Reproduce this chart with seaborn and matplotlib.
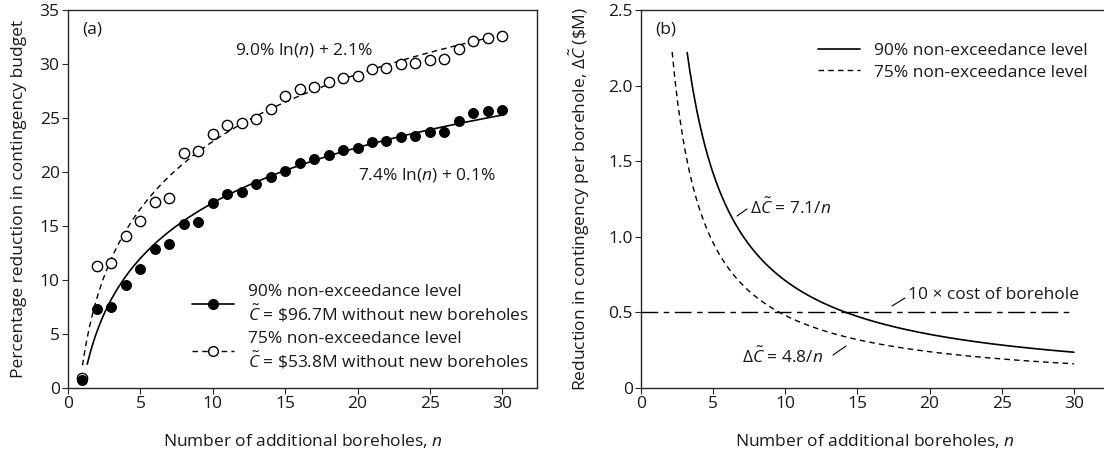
import numpy as np
import pandas as pd
import matplotlib
matplotlib.use("Agg")
import matplotlib.pyplot as plt
from matplotlib.lines import Line2D
import seaborn as sns

# ---------------- data ----------------
n_pts = list(range(1, 31))
red_90 = [0.75, 7.3, 7.5, 9.5, 11.0, 12.9, 13.3, 15.2, 15.4, 17.1,
          17.95, 18.15, 18.85, 19.55, 20.1, 20.85, 21.2, 21.6, 22.0, 22.25,
          22.8, 22.85, 23.25, 23.35, 23.7, 23.75, 24.7, 25.45, 25.65, 25.75]
red_75 = [0.9, 11.3, 11.55, 14.1, 15.45, 17.25, 17.55, 21.8, 21.9, 23.5,
          24.35, 24.5, 24.95, 25.8, 27.05, 27.65, 27.9, 28.35, 28.75, 28.9,
          29.55, 29.65, 30.0, 30.05, 30.4, 30.45, 31.35, 32.15, 32.45, 32.55]
# fitted trend coefficients shown on chart: a*ln(n) + b
fit_90 = (7.4, 0.1)
fit_75 = (9.0, 2.1)
fit_range_90 = (1.33, 30)
fit_range_75 = (1.0, 30)
# panel b: dC = k / n
k_90 = 7.1
k_75 = 4.8
b_range_90 = (3.2, 30)
b_range_75 = (2.16, 30)
cost_line = 0.5
cost_range = (0, 30)

xticks = [0, 5, 10, 15, 20, 25, 30]
yticks_a = [0, 5, 10, 15, 20, 25, 30, 35]
yticks_b = [0, 0.5, 1.0, 1.5, 2.0, 2.5]
yticklabels_b = ["0", "0.5", "1.0", "1.5", "2.0", "2.5"]

# ---------------- style ----------------
sns.set_style("ticks")
FONT = 'Open Sans'
plt.rcParams['font.family'] = [FONT, 'DejaVu Sans']
plt.rcParams['mathtext.fontset'] = 'custom'
plt.rcParams['mathtext.rm'] = FONT
plt.rcParams['mathtext.it'] = FONT + ':italic'
plt.rcParams['mathtext.bf'] = FONT + ':bold'
FS = 12.5
plt.rcParams['font.size'] = FS
plt.rcParams['axes.linewidth'] = 1.0
plt.rcParams['xtick.direction'] = 'out'
plt.rcParams['ytick.direction'] = 'out'
plt.rcParams['xtick.major.size'] = 4
plt.rcParams['ytick.major.size'] = 4
plt.rcParams['xtick.major.pad'] = 2
plt.rcParams['ytick.major.pad'] = 2
for k in ['text.color', 'axes.labelcolor', 'xtick.labelcolor', 'ytick.labelcolor']:
    plt.rcParams[k] = '#1a1a1a'

W, H = 1104, 455
fig = plt.figure(figsize=(W / 100, H / 100), dpi=100)

def px_axes(l, r, t, b):
    return fig.add_axes([l / W, (H - b) / H, (r - l) / W, (b - t) / H])

def ftext(x, y, s, **kw):
    fig.text(x / W, (H - y) / H, s, va="center", ha="left", **kw)

def leader(x0, y0, x1, y1):
    fig.add_artist(Line2D([x0 / W, x1 / W], [(H - y0) / H, (H - y1) / H],
                          color="black", lw=0.8))

axa = px_axes(68, 537, 10, 388)
axb = px_axes(641, 641 + 32.4 * 14.43, 10, 388)

# ---------------- panel a ----------------
df = pd.DataFrame({"n": n_pts, "r90": red_90, "r75": red_75})

xa = np.linspace(fit_range_75[0], fit_range_75[1], 300)
xs = np.linspace(fit_range_90[0], fit_range_90[1], 300)
dfl75 = pd.DataFrame({"n": xa, "y": fit_75[0] * np.log(xa) + fit_75[1]})
dfl90 = pd.DataFrame({"n": xs, "y": fit_90[0] * np.log(xs) + fit_90[1]})

sns.lineplot(data=dfl75, x="n", y="y", ax=axa, color="black", lw=1.0,
             linestyle=(0, (4, 3)))
sns.lineplot(data=dfl90, x="n", y="y", ax=axa, color="black", lw=1.2)
sns.scatterplot(data=df, x="n", y="r75", ax=axa, s=55, marker="o",
                facecolor="white", edgecolor="black", linewidth=1.0, zorder=3)
sns.scatterplot(data=df, x="n", y="r90", ax=axa, s=50, marker="o",
                color="black", edgecolor="black", linewidth=0.8, zorder=4)

axa.set_xlim(0, 32.4)
axa.set_ylim(0, 35)
axa.set_xticks(xticks)
axa.set_yticks(yticks_a)
axa.set_xlabel("Number of additional boreholes, $n$", labelpad=14)
axa.set_ylabel("Percentage reduction in contingency budget", labelpad=9)

ftext(82, 30, "(a)")
ftext(235, 50, r"9.0% ln($n$) + 2.1%")
ftext(358, 175, r"7.4% ln($n$) + 0.1%")

h90 = Line2D([], [], color="black", lw=1.2, marker="o", markersize=7,
             markerfacecolor="black", markeredgecolor="black")
h75 = Line2D([], [], color="black", lw=1.0, linestyle=(0, (4, 3)), marker="o",
             markersize=7, markerfacecolor="white", markeredgecolor="black")
axa.legend([h90, h75],
           ["90% non-exceedance level\n$\\tilde{C}$ = \\$96.7M without new boreholes",
            "75% non-exceedance level\n$\\tilde{C}$ = \\$53.8M without new boreholes"],
           loc="upper left", bbox_to_anchor=(192 / W, (H - 284) / H),
           bbox_transform=fig.transFigure, frameon=False, borderpad=0,
           borderaxespad=0, handlelength=2.4, handletextpad=0.8,
           labelspacing=0.35, fontsize=FS)

# ---------------- panel b ----------------
xb90 = np.linspace(b_range_90[0], b_range_90[1], 300)
xb75 = np.linspace(b_range_75[0], b_range_75[1], 300)
dfb90 = pd.DataFrame({"n": xb90, "y": k_90 / xb90})
dfb75 = pd.DataFrame({"n": xb75, "y": k_75 / xb75})
dfc = pd.DataFrame({"n": list(cost_range), "y": [cost_line, cost_line]})

sns.lineplot(data=dfb90, x="n", y="y", ax=axb, color="black", lw=1.2,
             label="90% non-exceedance level")
sns.lineplot(data=dfb75, x="n", y="y", ax=axb, color="black", lw=1.0,
             linestyle=(0, (4, 3)), label="75% non-exceedance level")
sns.lineplot(data=dfc, x="n", y="y", ax=axb, color="black", lw=1.0,
             linestyle=(0, (12, 4, 4, 4)))

axb.set_xlim(0, 32.4)
axb.set_ylim(0, 2.5)
axb.set_xticks(xticks)
axb.set_yticks(yticks_b)
axb.set_yticklabels(yticklabels_b)
axb.set_xlabel("Number of additional boreholes, $n$", labelpad=14)
axb.set_ylabel("Reduction in contingency per borehole, $\\Delta\\tilde{C}$ (\\$M)", labelpad=12)
axb.legend(loc="upper left", bbox_to_anchor=(818 / W, (H - 43) / H),
           bbox_transform=fig.transFigure, frameon=False, borderpad=0,
           borderaxespad=0, handlelength=2.4, handletextpad=0.8,
           labelspacing=0.3, fontsize=FS)

ftext(655, 30, "(b)")
ftext(750, 208, "$\\Delta\\tilde{C}$ = 7.1/$n$")
ftext(908, 295, "10 × cost of borehole")
ftext(742, 357, "$\\Delta\\tilde{C}$ = 4.8/$n$")

leader(737, 216, 747, 209)
leader(892, 306, 905, 298)
leader(833, 355, 846, 346)

fig.savefig("out.png", dpi=100)
